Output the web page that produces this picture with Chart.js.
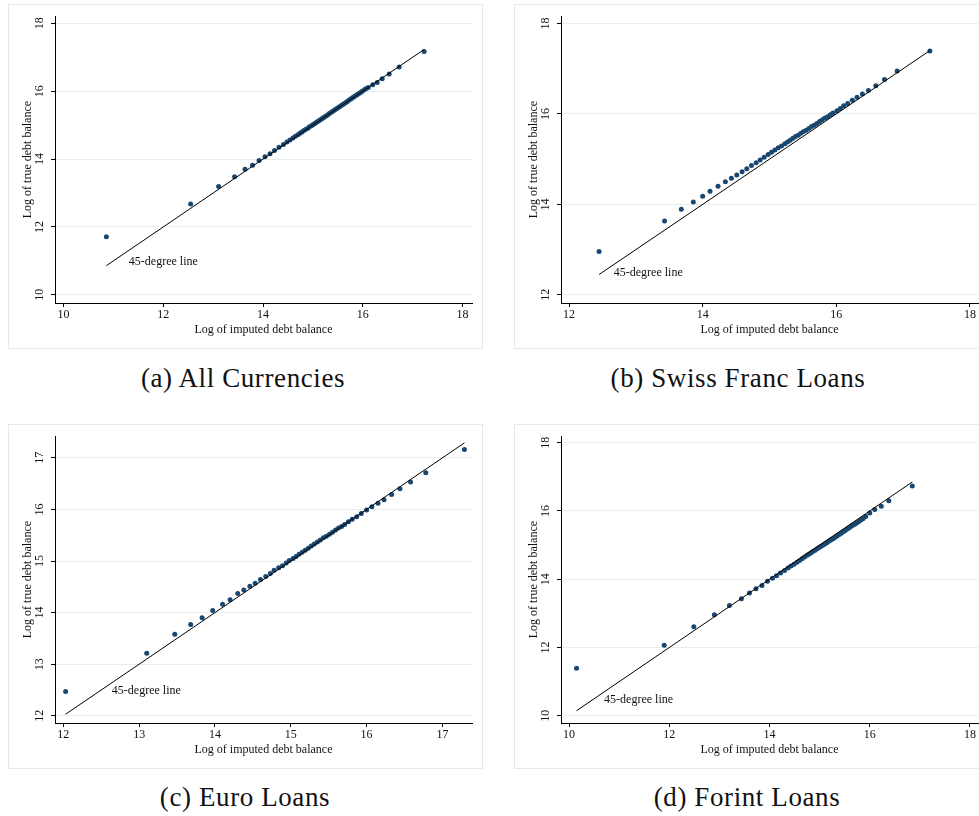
<!DOCTYPE html>
<html>
<head>
<meta charset="utf-8">
<script src="https://cdn.jsdelivr.net/npm/chart.js@4.4.1/dist/chart.umd.min.js"></script>
<style>
  html, body { margin: 0; padding: 0; background: #fff; width: 979px; height: 816px; overflow: hidden; position: relative; }
  .panel { position: absolute; width: 475px; height: 345px; box-sizing: border-box; border: 1px solid #e3eaea; }
  .panel canvas { position: absolute; left: -1px; top: -1px; }
  .cap { position: absolute; width: 340px; text-align: center; white-space: nowrap;
         font-family: "Liberation Serif", serif; font-size: 27px; letter-spacing: 0.6px; line-height: 30px; color: #111; }
</style>
</head>
<body>
<div class="panel" style="left:8px; top:4px"><canvas id="chart-a" width="475" height="345"></canvas></div>
<div class="panel" style="left:514px; top:4px"><canvas id="chart-b" width="475" height="345"></canvas></div>
<div class="panel" style="left:8px; top:424px"><canvas id="chart-c" width="475" height="345"></canvas></div>
<div class="panel" style="left:514px; top:424px"><canvas id="chart-d" width="475" height="345"></canvas></div>

<div class="cap" id="cap-a" style="left:73px; top:363px"></div>
<div class="cap" id="cap-b" style="left:568px; top:363px"></div>
<div class="cap" id="cap-c" style="left:75px; top:782px"></div>
<div class="cap" id="cap-d" style="left:577px; top:782px"></div>

<script>
/* ══════════════════════════════════════
   Binned scatter: log true vs log imputed debt
   ══════════════════════════════════════ */

// ── Textos ──
const X_TITLE    = 'Log of imputed debt balance';
const Y_TITLE    = 'Log of true debt balance';
const LINE_LABEL = '45-degree line';
const CAPTIONS   = ['(a) All Currencies', '(b) Swiss Franc Loans', '(c) Euro Loans', '(d) Forint Loans'];

// ── (a) All Currencies ──
const A_X = [10.86, 12.55, 13.11, 13.43, 13.64, 13.79, 13.92, 14.04, 14.14, 14.23, 14.32, 14.41,
  14.48, 14.54, 14.60, 14.65, 14.70, 14.74, 14.78, 14.82, 14.86, 14.90, 14.93, 14.97, 15.00, 15.03,
  15.06, 15.09, 15.12, 15.15, 15.18, 15.21, 15.24, 15.27, 15.30, 15.33, 15.36, 15.39, 15.42, 15.45,
  15.48, 15.51, 15.54, 15.57, 15.60, 15.63, 15.66, 15.69, 15.72, 15.75, 15.78, 15.81, 15.84, 15.87,
  15.90, 15.93, 15.96, 15.99, 16.03, 16.07, 16.11, 16.20, 16.29, 16.39, 16.53, 16.73, 17.23];
const A_Y = [11.71, 12.68, 13.19, 13.48, 13.70, 13.82, 13.96, 14.07, 14.16, 14.25, 14.35, 14.43,
  14.50, 14.56, 14.62, 14.67, 14.72, 14.76, 14.80, 14.84, 14.88, 14.91, 14.95, 14.98, 15.01, 15.04,
  15.07, 15.10, 15.13, 15.16, 15.19, 15.22, 15.25, 15.28, 15.31, 15.34, 15.37, 15.40, 15.43, 15.46,
  15.49, 15.52, 15.55, 15.58, 15.61, 15.64, 15.67, 15.70, 15.73, 15.76, 15.79, 15.82, 15.85, 15.88,
  15.91, 15.94, 15.97, 16.00, 16.04, 16.08, 16.11, 16.19, 16.26, 16.37, 16.51, 16.71, 17.17];

// ── (b) Swiss Franc Loans ──
const B_X = [12.45, 13.43, 13.68, 13.86, 14.00, 14.11, 14.23, 14.34, 14.43, 14.51, 14.59, 14.66,
  14.73, 14.80, 14.86, 14.92, 14.98, 15.03, 15.08, 15.13, 15.18, 15.23, 15.27, 15.31, 15.35, 15.39,
  15.43, 15.47, 15.51, 15.55, 15.59, 15.63, 15.67, 15.71, 15.75, 15.79, 15.83, 15.87, 15.91, 15.95,
  16.01, 16.06, 16.11, 16.17, 16.24, 16.31, 16.39, 16.48, 16.59, 16.72, 16.91, 17.40];
const B_Y = [12.96, 13.63, 13.89, 14.05, 14.18, 14.29, 14.40, 14.50, 14.58, 14.65, 14.72, 14.79,
  14.86, 14.92, 14.98, 15.04, 15.10, 15.15, 15.20, 15.25, 15.29, 15.34, 15.38, 15.42, 15.46, 15.50,
  15.53, 15.57, 15.61, 15.64, 15.68, 15.72, 15.75, 15.79, 15.83, 15.87, 15.91, 15.94, 15.98, 16.02,
  16.07, 16.12, 16.18, 16.23, 16.30, 16.37, 16.44, 16.52, 16.62, 16.76, 16.95, 17.39];

// ── (c) Euro Loans ──
const C_X = [12.03, 13.10, 13.47, 13.68, 13.83, 13.97, 14.10, 14.20, 14.30, 14.38, 14.46, 14.53,
  14.60, 14.67, 14.73, 14.78, 14.84, 14.89, 14.94, 14.98, 15.03, 15.07, 15.11, 15.15, 15.19, 15.23,
  15.27, 15.31, 15.35, 15.39, 15.43, 15.47, 15.51, 15.55, 15.59, 15.63, 15.67, 15.71, 15.76, 15.81,
  15.87, 15.93, 16.00, 16.07, 16.15, 16.23, 16.33, 16.44, 16.58, 16.78, 17.29];
const C_Y = [12.47, 13.21, 13.58, 13.77, 13.90, 14.04, 14.16, 14.25, 14.37, 14.44, 14.51, 14.57,
  14.64, 14.70, 14.76, 14.82, 14.87, 14.91, 14.96, 15.01, 15.05, 15.09, 15.13, 15.17, 15.21, 15.25,
  15.29, 15.33, 15.37, 15.41, 15.45, 15.48, 15.52, 15.56, 15.60, 15.64, 15.67, 15.71, 15.76, 15.81,
  15.86, 15.92, 15.99, 16.05, 16.12, 16.19, 16.29, 16.40, 16.53, 16.71, 17.16];

// ── (d) Forint Loans ──
const D_X = [10.15, 11.90, 12.49, 12.90, 13.20, 13.44, 13.60, 13.73, 13.85, 13.96, 14.06, 14.14,
  14.22, 14.30, 14.37, 14.43, 14.49, 14.55, 14.60, 14.65, 14.70, 14.75, 14.79, 14.83, 14.87, 14.91,
  14.95, 14.99, 15.03, 15.07, 15.11, 15.15, 15.19, 15.23, 15.27, 15.31, 15.35, 15.39, 15.43, 15.47,
  15.51, 15.55, 15.59, 15.63, 15.67, 15.71, 15.75, 15.79, 15.83, 15.87, 15.92, 16.00, 16.10, 16.23,
  16.38, 16.85];
const D_Y = [11.39, 12.07, 12.61, 12.96, 13.23, 13.43, 13.60, 13.72, 13.82, 13.94, 14.03, 14.10,
  14.18, 14.26, 14.33, 14.39, 14.44, 14.50, 14.55, 14.60, 14.65, 14.70, 14.74, 14.78, 14.82, 14.85,
  14.89, 14.93, 14.97, 15.00, 15.04, 15.08, 15.12, 15.16, 15.19, 15.23, 15.27, 15.31, 15.35, 15.39,
  15.43, 15.47, 15.51, 15.55, 15.59, 15.62, 15.66, 15.70, 15.74, 15.78, 15.84, 15.94, 16.04, 16.14,
  16.30, 16.73];

// ── Ejes ──
const A_XTICKS = [10, 12, 14, 16, 18], A_YTICKS = [10, 12, 14, 16, 18];
const B_XTICKS = [12, 14, 16, 18],     B_YTICKS = [12, 14, 16, 18];
const C_XTICKS = [12, 13, 14, 15, 16, 17], C_YTICKS = [12, 13, 14, 15, 16, 17];
const D_XTICKS = [10, 12, 14, 16, 18], D_YTICKS = [10, 12, 14, 16, 18];

const A_XRANGE = [9.83, 18.19],  A_YRANGE = [9.76, 18.21];
const B_XRANGE = [11.88, 18.12], B_YRANGE = [11.82, 18.16];
const C_XRANGE = [11.89, 17.39], C_YRANGE = [11.86, 17.42];
const D_XRANGE = [9.84, 18.16],  D_YRANGE = [9.79, 18.19];

// posición (en datos) del texto de la recta
const A_LABEL_AT = [11.31, 10.96];
const B_LABEL_AT = [12.67, 12.48];
const C_LABEL_AT = [12.64, 12.49];
const D_LABEL_AT = [10.70, 10.47];

// ── Estilo ──
const FONT      = '"Liberation Serif", "Times New Roman", serif';
const NAVY      = '#1a476f';
const GRID      = '#e6eeee';
const INK       = '#111';

// texto "45-degree line" anclado en coordenadas de datos
const lineLabel = {
  id: 'lineLabel',
  afterDatasetsDraw(chart, args, opts) {
    const { ctx, scales: { x, y } } = chart;
    ctx.save();
    ctx.font = `12px ${FONT}`;
    ctx.fillStyle = INK;
    ctx.textBaseline = 'middle';
    ctx.textAlign = 'left';
    ctx.fillText(LINE_LABEL, x.getPixelForValue(opts.at[0]), y.getPixelForValue(opts.at[1]));
    ctx.restore();
  }
};

function crearPanel(id, xs, ys, xTicks, yTicks, xRange, yRange, labelAt) {
  const puntos = xs.map((v, i) => ({ x: v, y: ys[i] }));
  const lo = xs[0], hi = xs[xs.length - 1];

  new Chart(document.getElementById(id), {
    type: 'scatter',
    data: {
      datasets: [
        {
          type: 'line',
          data: [{ x: lo, y: lo }, { x: hi, y: hi }],
          borderColor: '#000',
          borderWidth: 1,
          pointRadius: 0,
          fill: false,
        },
        {
          data: puntos,
          backgroundColor: NAVY,
          borderWidth: 0,
          pointRadius: 2.5,
          pointHoverRadius: 2.5,
        },
      ],
    },
    options: {
      responsive: false,
      animation: false,
      devicePixelRatio: 1,
      events: [],
      layout: { padding: { top: 12, right: 11, left: 0, bottom: 0 } },
      plugins: {
        legend: { display: false },
        tooltip: { enabled: false },
        lineLabel: { at: labelAt },
      },
      scales: {
        x: {
          type: 'linear',
          min: xRange[0], max: xRange[1],
          afterBuildTicks: s => { s.ticks = xTicks.map(v => ({ value: v })); },
          afterFit: s => { s.height = 46; },
          grid: { drawOnChartArea: false, drawTicks: true, tickLength: 4, tickColor: '#000' },
          border: { color: '#000', width: 1 },
          ticks: { font: { family: FONT, size: 12 }, color: INK, padding: 1, maxRotation: 0 },
          title: { display: true, text: X_TITLE, color: INK, font: { family: FONT, size: 12 }, padding: { top: 0, bottom: 12 } },
        },
        y: {
          type: 'linear',
          min: yRange[0], max: yRange[1],
          afterBuildTicks: s => { s.ticks = yTicks.map(v => ({ value: v })); },
          afterFit: s => { s.width = 47; },
          grid: { color: GRID, lineWidth: 1, drawTicks: true, tickLength: 4, tickColor: '#000' },
          border: { color: '#000', width: 1 },
          ticks: { font: { family: FONT, size: 12 }, color: INK, padding: 5, minRotation: 90, maxRotation: 90, crossAlign: 'center' },
          title: { display: true, text: Y_TITLE, color: INK, font: { family: FONT, size: 12 }, padding: { top: 13, bottom: 0 } },
        },
      },
    },
    plugins: [lineLabel],
  });
}

// ── Inicialización ──
crearPanel('chart-a', A_X, A_Y, A_XTICKS, A_YTICKS, A_XRANGE, A_YRANGE, A_LABEL_AT);
crearPanel('chart-b', B_X, B_Y, B_XTICKS, B_YTICKS, B_XRANGE, B_YRANGE, B_LABEL_AT);
crearPanel('chart-c', C_X, C_Y, C_XTICKS, C_YTICKS, C_XRANGE, C_YRANGE, C_LABEL_AT);
crearPanel('chart-d', D_X, D_Y, D_XTICKS, D_YTICKS, D_XRANGE, D_YRANGE, D_LABEL_AT);

['cap-a', 'cap-b', 'cap-c', 'cap-d'].forEach((id, i) => {
  document.getElementById(id).textContent = CAPTIONS[i];
});
</script>
</body>
</html>
